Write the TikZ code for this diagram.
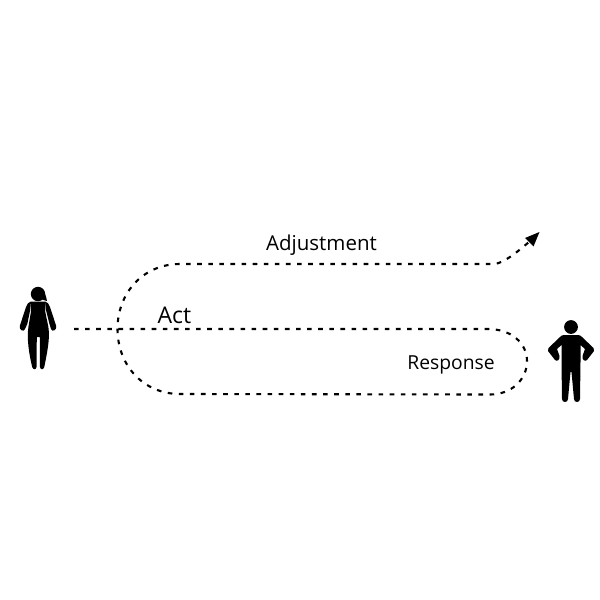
\documentclass[tikz,border=0pt]{standalone}
\usepackage{fontspec}
\setmainfont{Open Sans}
\usetikzlibrary{arrows.meta}
\tikzset{
  flow/.style={line width=2.1pt,black,dash pattern=on 4.6pt off 6.5pt,line join=round},
  lbl/.style={font=\fontsize{20.5}{22}\selectfont,text=black,inner sep=0pt,anchor=center},
  person/.style={fill=black,draw=none}
}
\begin{document}
\begin{tikzpicture}[x=1pt,y=-1pt]
\useasboundingbox (0,0) rectangle (600,600);
\fill[white] (0,0) rectangle (600,600);
% labels
\node[lbl] (adj) at (321.5,245.5) {Adjustment};
\node[lbl,font=\fontsize{23}{25}\selectfont] (act) at (174.5,315.5) {Act};
\node[lbl,font=\fontsize{19.3}{21}\selectfont] (resp) at (451,365) {Response};
% connector anchors
\coordinate (start) at (74,329);
\coordinate (a1) at (488,329);
\coordinate (r1) at (527,361);
\coordinate (b1) at (490,394.5);
\coordinate (b0) at (180,394);
\coordinate (l0) at (117.5,329);
\coordinate (t0) at (180,264);
\coordinate (t1) at (495,264);
\coordinate (tip) at (539.5,232);
% connectors
\draw[flow] (start) -- (a1)
  .. controls (511,329) and (527,343) .. (r1)
  .. controls (527,380) and (511,394.5) .. (b1)
  -- (b0)
  .. controls (143,394) and (117.5,365) .. (l0)
  .. controls (117.5,293) and (143,264) .. (t0)
  -- (t1)
  .. controls (505,262) and (516,253) .. (529,242);
\fill[black] (tip) -- (525,238) -- (533.5,246.5) -- cycle;
% woman
\fill[person] (38,294) circle (7.2);
\fill[person] (40,288) .. controls (45,291) and (46,296) .. (47,301) .. controls (43,300) and (40,299) .. (38,297) -- cycle;
% woman body
\fill[person] (31,301.5) -- (45,301.5)
  .. controls (45.5,305) and (45.6,308) .. (45.2,311.5)
  -- (48.4,327) -- (49,333)
  .. controls (49,345) and (46,358) .. (44.3,367)
  .. controls (43.5,370) and (40.5,370) .. (40,367)
  -- (39.8,337) -- (36.8,337) -- (36.5,367)
  .. controls (36,370) and (33,370) .. (32.2,367)
  .. controls (30,358) and (27.5,345) .. (27.8,333)
  -- (28.4,327) -- (31,311.5)
  .. controls (30.6,308) and (30.7,305) .. (31,301.5) -- cycle;
% woman arms
\fill[person] (31,301.5) .. controls (28.5,302) and (27,304) .. (26,307)
  -- (19.8,326) .. controls (19,330) and (23.5,332.5) .. (25,329)
  -- (27.3,324) -- (30,311) -- cycle;
\fill[person] (45,301.5) .. controls (47.5,302) and (49,304) .. (50,307)
  -- (56.2,326) .. controls (57,330) and (52.5,332.5) .. (51,329)
  -- (49.5,324) -- (46.2,311) -- cycle;
% man
\fill[person] (571,327) circle (6.9);
\fill[person] (564,335) -- (578,335)
  .. controls (580,335) and (581,336) .. (582,337)
  -- (593.5,348) .. controls (594.5,349.5) and (594.5,350) .. (594,351)
  -- (587,360) .. controls (585,362) and (582,360) .. (582.5,356)
  -- (585,349) -- (580.5,345)
  -- (580.5,362) -- (580,399)
  .. controls (580,403) and (574,403) .. (574,399)
  -- (571.5,372) -- (570.5,372) -- (568,399)
  .. controls (568,403) and (562,403) .. (562,399)
  -- (561.5,362) -- (561.5,345) -- (557,349)
  -- (559.5,356) .. controls (560,360) and (557,362) .. (555,360)
  -- (548,351) .. controls (547.5,350) and (547.5,349.5) .. (548.5,348)
  -- (560,337) .. controls (561,336) and (562,335) .. (564,335) -- cycle;
\end{tikzpicture}
\end{document}
